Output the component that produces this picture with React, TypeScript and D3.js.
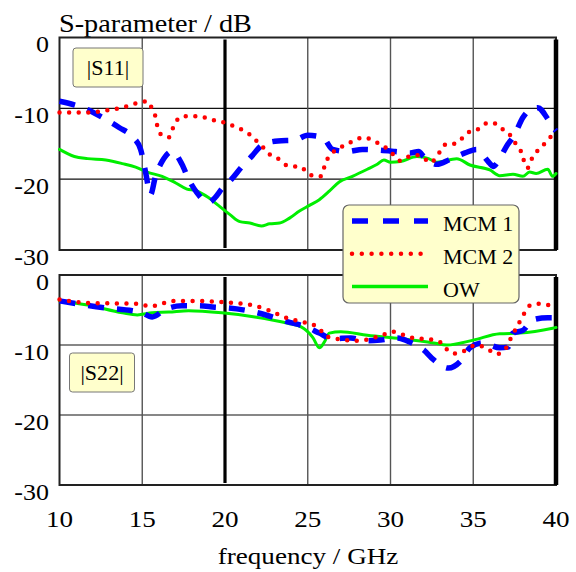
import React from "react";
import * as d3 from "d3";

// ---------- data ----------
const xTicks = [10, 15, 20, 25, 30, 35, 40];
const yTicks = [0, -10, -20, -30];

// |S11|
const s11Mcm1F = [10, 11.5, 12.6, 13.6, 14.4, 14.9, 15.2, 15.5, 15.8, 16.2, 16.8, 17.4, 17.8, 18.3, 19.0, 19.4, 19.8, 20.4, 21.0, 21.6, 22.3, 23.2, 24.2, 25.0, 25.9, 26.5, 27.4, 28.3, 29.3, 30.3, 31.2, 31.7, 32.0, 32.8, 33.6, 34.5, 35.2, 35.9, 36.2, 36.5, 37.0, 37.5, 38.0, 38.5, 38.9, 39.5, 39.8, 40];
const s11Mcm1 = [-9.0, -10.0, -11.3, -12.7, -14.0, -15.8, -19.0, -22.2, -19.6, -17.5, -16.1, -17.9, -20.0, -21.9, -23.3, -22.6, -21.4, -20.0, -18.3, -16.8, -15.1, -14.6, -14.5, -13.8, -14.1, -15.8, -16.1, -15.8, -15.9, -16.1, -16.3, -16.1, -16.8, -17.9, -17.2, -16.3, -15.8, -17.5, -18.2, -17.5, -15.4, -13.7, -11.3, -10.1, -9.9, -11.5, -12.6, -13.2];

const s11Mcm2F = [10, 11.7, 12.8, 13.8, 14.8, 15.3, 15.6, 15.8, 15.9, 16.1, 16.6, 16.8, 17.0, 17.5, 18.5, 19.0, 19.6, 20.1, 20.6, 21.1, 21.5, 21.9, 22.3, 22.7, 23.2, 23.6, 24.1, 24.5, 25.0, 25.4, 25.8, 26.0, 26.2, 27.0, 27.5, 27.9, 28.4, 28.9, 29.4, 29.8, 30.2, 30.6, 31.0, 31.5, 32.0, 32.4, 32.7, 33.0, 33.4, 33.9, 34.3, 34.7, 35.2, 35.5, 36.0, 36.4, 36.8, 37.1, 37.4, 37.7, 38.0, 38.1, 38.3, 38.5, 38.8, 39.2, 39.5, 40];
const s11Mcm2 = [-10.6, -10.6, -10.3, -9.9, -9.2, -9.0, -10.1, -11.2, -12.4, -13.6, -14.1, -13.1, -12.0, -11.1, -11.1, -11.5, -11.8, -12.1, -12.6, -13.1, -13.7, -14.6, -15.5, -16.5, -17.1, -17.9, -18.2, -18.2, -19.1, -19.6, -19.6, -18.3, -17.1, -15.5, -14.9, -14.4, -14.1, -14.5, -15.1, -15.7, -16.6, -17.4, -16.9, -16.6, -17.0, -17.7, -17.1, -16.1, -15.0, -15.0, -14.3, -13.4, -13.1, -12.5, -12.0, -12.2, -13.0, -13.4, -14.4, -15.5, -16.7, -17.9, -18.4, -17.3, -16.2, -15.3, -14.4, -13.6];

const s11OwF = [10, 10.9, 11.7, 12.8, 13.8, 14.6, 15.3, 16.2, 17.0, 17.7, 18.2, 19.0, 19.6, 20.3, 20.9, 21.5, 22.2, 22.7, 23.3, 23.9, 24.5, 25.1, 25.7, 26.3, 26.9, 27.7, 28.6, 29.2, 29.6, 30.0, 30.6, 31.6, 32.3, 32.8, 34.0, 34.8, 36.0, 36.6, 37.4, 38.0, 38.4, 38.8, 39.5, 39.8, 40];
const s11Ow = [-15.8, -16.8, -17.1, -17.3, -17.8, -18.3, -19.0, -19.6, -20.5, -21.4, -21.6, -22.6, -23.7, -25.0, -26.0, -26.2, -26.6, -26.3, -26.2, -25.5, -24.5, -23.7, -22.9, -21.7, -20.4, -19.6, -18.6, -17.9, -17.3, -17.6, -17.5, -16.8, -17.1, -17.6, -17.1, -18.0, -18.7, -19.5, -19.3, -19.6, -19.0, -19.2, -18.6, -19.6, -19.2];

// |S22|
const s22Mcm1F = [10, 12.8, 14.4, 14.9, 15.6, 16.4, 17.4, 18.4, 19.4, 20.2, 21.8, 23.8, 25.0, 25.7, 26.5, 27.6, 28.6, 29.4, 30.4, 31.2, 32.0, 32.6, 33.5, 34.2, 34.8, 35.6, 36.6, 37.1, 37.4, 38.0, 38.6, 39.5, 40];
const s22Mcm1 = [-3.7, -4.7, -5.1, -5.3, -6.0, -4.9, -4.4, -4.4, -4.6, -4.7, -5.3, -6.7, -7.5, -8.3, -9.1, -9.0, -9.4, -9.3, -9.0, -9.6, -10.7, -12.1, -13.3, -12.4, -10.4, -9.7, -10.4, -10.3, -8.3, -7.9, -6.4, -6.1, -6.1];

const s22Mcm2F = [10, 11.7, 14.7, 15.5, 16.2, 16.8, 17.8, 19.4, 20.6, 21.6, 22.6, 23.8, 24.7, 25.7, 26.0, 26.5, 28.0, 29.5, 30.1, 31.2, 32.6, 33.2, 33.5, 33.9, 34.4, 35.2, 36.1, 36.4, 36.9, 37.3, 37.8, 38.1, 38.4, 38.9, 39.5, 40];
const s22Mcm2 = [-3.5, -4.0, -4.1, -4.5, -4.1, -3.7, -3.7, -3.8, -4.0, -4.3, -5.0, -6.2, -6.7, -7.6, -8.6, -9.0, -9.4, -8.6, -8.1, -8.9, -9.3, -9.9, -10.9, -11.2, -10.9, -10.0, -10.9, -11.3, -10.7, -8.9, -6.7, -5.4, -4.4, -4.1, -4.3, -4.3];

const s22OwF = [10, 11.7, 13.8, 14.7, 15.6, 16.6, 17.8, 19.8, 21.8, 23.8, 24.6, 25.3, 25.7, 26.0, 26.3, 27.0, 28.6, 30.6, 32.6, 33.4, 35.0, 36.6, 37.8, 39.8, 40];
const s22Ow = [-3.7, -4.3, -5.4, -5.7, -5.4, -5.3, -5.1, -5.4, -6.0, -6.9, -7.4, -8.9, -10.4, -9.6, -8.3, -8.1, -8.6, -9.1, -9.7, -10.0, -9.3, -8.4, -8.3, -7.6, -7.5];

const legendLabels = ["MCM 1", "MCM 2", "OW"];

// ---------- styles ----------
const BLUE = "#0000ff";
const RED = "#ff0000";
const GREEN = "#00ee00";
const FONT = "'Liberation Serif', 'Times New Roman', serif";
const LEGEND_FILL = "#ffffcc";

type P = [number, number];
const zip = (f: number[], v: number[]): P[] => f.map((x, i) => [x, v[i]]);

const W = 576;
const H = 572;
const x = d3.scaleLinear().domain([10, 40]).range([59.5, 556]);
const yTop = d3.scaleLinear().domain([0, -30]).range([37.5, 250]);
const yBot = d3.scaleLinear().domain([0, -30]).range([275, 485]);

const STRETCH = 1.13;

function T({ x: tx, y: ty, size, anchor = "start", children, sx = STRETCH }: any) {
  return (
    <text
      transform={`translate(${tx},${ty}) scale(${sx},1)`}
      fontFamily={FONT}
      fontSize={size}
      textAnchor={anchor}
      fill="#000"
    >
      {children}
    </text>
  );
}

// index 0: MCM 1, 1: MCM 2, 2: OW
const seriesStyles = [
  { stroke: BLUE, width: 5.5, dash: "16 13", cap: "butt" },
  { stroke: RED, width: 4.5, dash: "0 9.6", cap: "round" },
  { stroke: GREEN, width: 3, dash: undefined as string | undefined, cap: "round" },
];

function Panel({ y, series }: { y: d3.ScaleLinear<number, number>; series: P[][] }) {
  const [y0, y1] = y.range();
  const mk = d3
    .line<P>()
    .x((d) => x(d[0]))
    .y((d) => y(d[1]))
    .curve(d3.curveMonotoneX);
  const order = [2, 0, 1];
  return (
    <g>
      {yTicks.slice(1, -1).map((t) => (
        <line key={"h" + t} x1={x(10)} x2={x(40)} y1={y(t)} y2={y(t)} stroke="#111" strokeWidth={1.2} />
      ))}
      {[15, 25, 30, 35].map((t) => (
        <line key={"v" + t} x1={x(t)} x2={x(t)} y1={y0} y2={y1} stroke="#555" strokeWidth={1.4} />
      ))}
      <rect x={x(10)} y={y0} width={x(40) - x(10)} height={y1 - y0} fill="none" stroke="#222" strokeWidth={2} />
      <line x1={x(20)} x2={x(20)} y1={y0 + 2} y2={y1 - 2} stroke="#000" strokeWidth={3.2} />
      <line x1={x(40)} x2={x(40)} y1={y0 + 2} y2={y1} stroke="#000" strokeWidth={4.5} />
      {order.map((i) => {
        const s = seriesStyles[i];
        return (
          <path
            key={"s" + i}
            d={mk(series[i]) || ""}
            fill="none"
            stroke={s.stroke}
            strokeWidth={s.width}
            strokeDasharray={s.dash}
            strokeLinecap={s.cap as any}
            strokeLinejoin="round"
          />
        );
      })}
      {yTicks.map((t) => (
        <T key={"yl" + t} x={49} y={y(t) + 14.5} size={23} anchor="end">
          {t}
        </T>
      ))}
    </g>
  );
}

export default function App() {
  const legendStyles = [
    { stroke: BLUE, width: 5.5, dash: "16 15", cap: "butt" },
    { stroke: RED, width: 4.5, dash: "0 9.8", cap: "round" },
    { stroke: GREEN, width: 3.5, dash: undefined as string | undefined, cap: "butt" },
  ];
  return (
    <svg width={W} height={H} style={{ position: "absolute", left: 0, top: 0, background: "#fff" }}>
      <rect x={0} y={0} width={W} height={H} fill="#fff" />
      <T x={59} y={32} size={25}>S-parameter / dB</T>

      <Panel y={yTop} series={[zip(s11Mcm1F, s11Mcm1), zip(s11Mcm2F, s11Mcm2), zip(s11OwF, s11Ow)]} />
      <Panel y={yBot} series={[zip(s22Mcm1F, s22Mcm1), zip(s22Mcm2F, s22Mcm2), zip(s22OwF, s22Ow)]} />

      {/* |S11| label */}
      <rect x={73} y={48} width={70} height={39} rx={3} fill={LEGEND_FILL} stroke="#777" strokeWidth={1} />
      <T x={108} y={75} size={21} anchor="middle" sx={1.05}>|S11|</T>
      {/* |S22| label */}
      <rect x={69.5} y={353} width={65} height={39} rx={3} fill={LEGEND_FILL} stroke="#777" strokeWidth={1} />
      <T x={102} y={380} size={21} anchor="middle" sx={1.05}>|S22|</T>

      {/* legend */}
      <rect x={343} y={205} width={176} height={98} rx={6} fill={LEGEND_FILL} stroke="#666" strokeWidth={1.2} />
      {legendLabels.map((lab, i) => {
        const ly = 221 + i * 32.8;
        const s = legendStyles[i];
        return (
          <g key={lab}>
            <line
              x1={352}
              x2={428}
              y1={ly}
              y2={ly}
              stroke={s.stroke}
              strokeWidth={s.width}
              strokeDasharray={s.dash}
              strokeLinecap={s.cap as any}
            />
            <T x={443} y={ly + 10} size={22} sx={1}>{lab}</T>
          </g>
        );
      })}

      {xTicks.map((t) => (
        <T key={"xl" + t} x={x(t)} y={527} size={24} anchor="middle">
          {t}
        </T>
      ))}
      <T x={308} y={564} size={24} anchor="middle">frequency / GHz</T>
    </svg>
  );
}
